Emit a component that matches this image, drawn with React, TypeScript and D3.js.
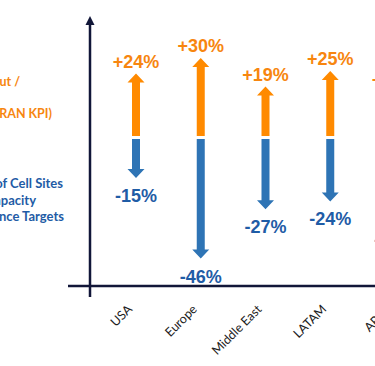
import React, { useEffect, useRef } from 'react';
import * as d3 from 'd3';

const REGIONS = ['USA', 'Europe', 'Middle East', 'LATAM', 'APAC'];
const GAIN = [24, 30, 19, 25, 17];
const CUT = [15, 46, 27, 24, 32];

const GAIN_LEGEND = ['Faster Rollout /', '(RAN KPI)'];
const CUT_LEGEND = ['Reduction in # of Cell Sites', 'for Same Capacity', '& Performance Targets'];

const ORANGE = '#FF8A00';
const ORANGE_TEXT = '#F7860F';
const BLUE = '#2E74B5';
const BLUE_TEXT = '#1F5CA6';
const NAVY = '#111638';

const W = 375;
const H = 366;

const App: React.FC = () => {
  const svgRef = useRef<SVGSVGElement>(null);

  useEffect(() => {
    if (!svgRef.current) return;
    const svg = d3.select(svgRef.current);
    svg.selectAll('*').remove();

    const axisX = 90;
    const axisY = 286;
    const upBase = 136;
    const downBase = 139;

    const x = d3.scalePoint<string>().domain(REGIONS).range([136, 395]);
    // px per percentage point
    const len = d3.scaleLinear().domain([0, 50]).range([0, 130]);

    const shaft = 8;
    const headW = 17;
    const headH = 9;

    const arrow = (cx: number, y0: number, tip: number) => {
      const dir = tip < y0 ? -1 : 1;
      const neck = tip - dir * headH;
      return `M${cx - shaft / 2},${y0} L${cx - shaft / 2},${neck} L${cx - headW / 2},${neck} L${cx},${tip} L${cx + headW / 2},${neck} L${cx + shaft / 2},${neck} L${cx + shaft / 2},${y0} Z`;
    };

    // axes
    svg.append('line')
      .attr('x1', axisX).attr('x2', axisX)
      .attr('y1', 297).attr('y2', 22)
      .attr('stroke', NAVY).attr('stroke-width', 2.5);
    svg.append('path')
      .attr('d', `M${axisX - 4.5},${25} L${axisX},${16} L${axisX + 4.5},${25} Z`)
      .attr('fill', NAVY);
    svg.append('line')
      .attr('x1', 68).attr('x2', W + 5)
      .attr('y1', axisY).attr('y2', axisY)
      .attr('stroke', NAVY).attr('stroke-width', 2.5);

    const bars = svg.append('g');
    REGIONS.forEach((r, i) => {
      const cx = x(r) ?? 0;
      const upTip = upBase - len(GAIN[i]);
      const downTip = downBase + len(CUT[i]);

      bars.append('path').attr('d', arrow(cx, upBase, upTip)).attr('fill', ORANGE);
      bars.append('path').attr('d', arrow(cx, downBase, downTip)).attr('fill', BLUE);

      bars.append('text')
        .attr('x', cx).attr('y', upTip - 6)
        .attr('text-anchor', 'middle')
        .attr('font-family', '"Liberation Sans", Arial, sans-serif')
        .attr('font-weight', 700).attr('font-size', 18)
        .attr('fill', ORANGE_TEXT)
        .text(`+${GAIN[i]}%`);

      bars.append('text')
        .attr('x', cx).attr('y', downTip + 24)
        .attr('text-anchor', 'middle')
        .attr('font-family', '"Liberation Sans", Arial, sans-serif')
        .attr('font-weight', 700).attr('font-size', 18)
        .attr('fill', BLUE_TEXT)
        .text(`-${CUT[i]}%`);

      svg.append('text')
        .attr('transform', `translate(${cx - 3},${310}) rotate(-45)`)
        .attr('text-anchor', 'end')
        .attr('font-family', 'Lato, sans-serif')
        .attr('font-size', 12.5)
        .attr('fill', '#222')
        .text(r);
    });

    // left legend text (cut off at the edge)
    const gainEnds = [
      { x: 20, y: 86 },
      { x: 52, y: 118 },
    ];
    GAIN_LEGEND.forEach((t, i) => {
      svg.append('text')
        .attr('x', gainEnds[i].x).attr('y', gainEnds[i].y)
        .attr('text-anchor', 'end')
        .attr('font-family', 'Lato, sans-serif')
        .attr('font-weight', 700).attr('font-size', 12.5)
        .attr('fill', ORANGE_TEXT)
        .text(t);
    });
    const cutEnds = [
      { x: 63, y: 188 },
      { x: 36, y: 204.5 },
      { x: 64, y: 221 },
    ];
    CUT_LEGEND.forEach((t, i) => {
      svg.append('text')
        .attr('x', cutEnds[i].x).attr('y', cutEnds[i].y)
        .attr('text-anchor', 'end')
        .attr('font-family', 'Lato, sans-serif')
        .attr('font-weight', 700).attr('font-size', 13)
        .attr('fill', BLUE_TEXT)
        .text(t);
    });
  }, []);

  return (
    <svg
      ref={svgRef}
      width={W}
      height={H}
      style={{ position: 'absolute', left: 0, top: 0, background: '#fff' }}
    />
  );
};

export default App;
